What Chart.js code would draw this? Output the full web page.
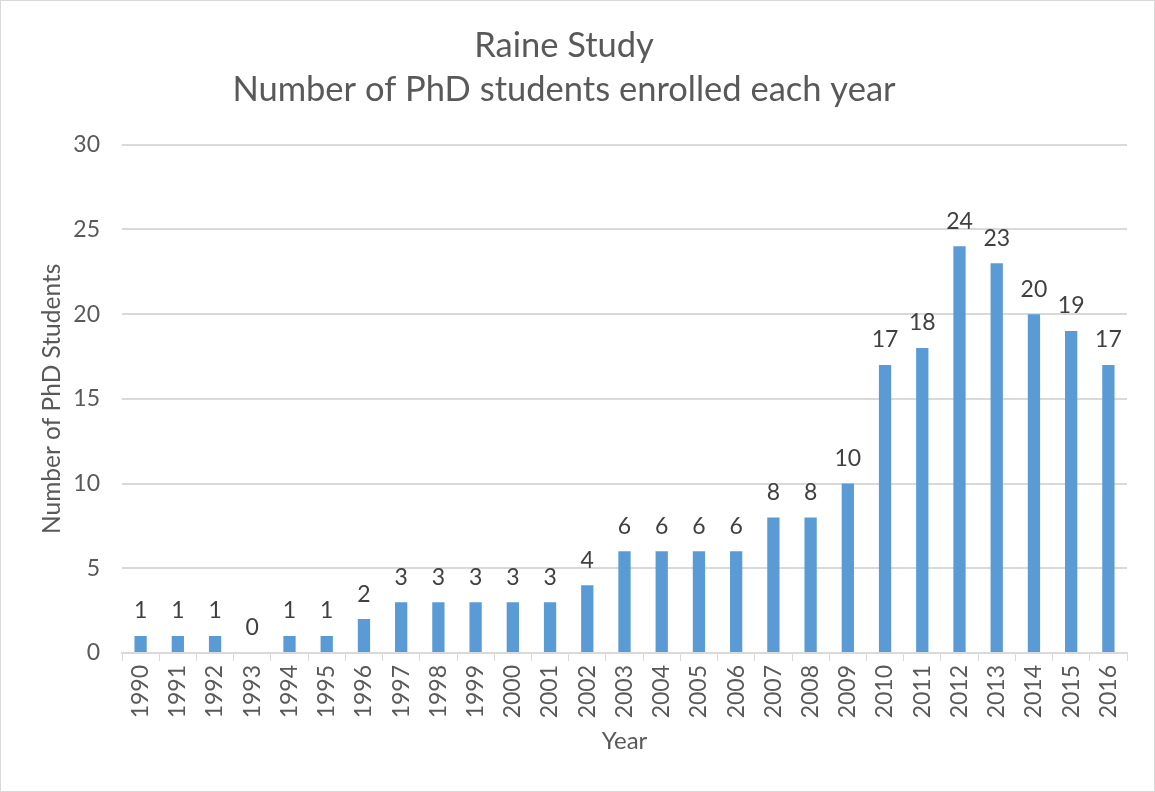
<!DOCTYPE html>
<html lang="en">
<head>
  <meta charset="UTF-8" />
  <title>Raine Study - PhD students</title>
  <script src="https://cdn.jsdelivr.net/npm/chart.js"></script>
  <style>
    body {
      margin: 0;
      background: #fff;
    }
    .frame {
      width: 1153px;
      height: 790px;
      border: 1px solid #d9d9d9;
    }
  </style>
</head>
<body>
  <div class="frame">
    <canvas id="phdChart" width="1153" height="790"></canvas>
  </div>

  <script>
    const years = ['1990','1991','1992','1993','1994','1995','1996','1997','1998','1999',
      '2000','2001','2002','2003','2004','2005','2006','2007','2008','2009',
      '2010','2011','2012','2013','2014','2015','2016'];
    const students = [1, 1, 1, 0, 1, 1, 2, 3, 3, 3, 3, 3, 4, 6, 6, 6, 6, 8, 8, 10,
      17, 18, 24, 23, 20, 19, 17];
    const titleLines = ['Raine Study', 'Number of PhD students enrolled each year'];

    const fontFamily = 'Lato, "Open Sans", sans-serif';

    // values drawn above each bar, like Excel data labels
    const barLabels = {
      id: 'barLabels',
      afterDatasetsDraw(chart) {
        const ctx = chart.ctx;
        const meta = chart.getDatasetMeta(0);
        ctx.save();
        ctx.font = '23px ' + fontFamily;
        ctx.fillStyle = '#404040';
        ctx.textAlign = 'center';
        ctx.textBaseline = 'middle';
        meta.data.forEach((bar, i) => {
          ctx.fillText(String(students[i]), bar.x, bar.y - 25);
        });
        ctx.restore();
      }
    };

    new Chart(document.getElementById('phdChart'), {
      type: 'bar',
      data: {
        labels: years,
        datasets: [{
          data: students,
          backgroundColor: '#5b9bd5',
          categoryPercentage: 1,
          barPercentage: 0.33
        }]
      },
      options: {
        responsive: false,
        animation: false,
        layout: { padding: { left: 0, right: 27, top: 0, bottom: 0 } },
        plugins: {
          legend: { display: false },
          tooltip: { enabled: false },
          title: {
            display: true,
            text: titleLines,
            color: '#595959',
            font: { family: fontFamily, size: 34.5, weight: 'normal', lineHeight: 1.3 },
            padding: { top: 22, bottom: 32 }
          }
        },
        scales: {
          x: {
            grid: {
              offset: true,
              drawOnChartArea: false,
              drawTicks: true,
              tickLength: 8,
              color: '#d9d9d9'
            },
            border: { display: true, color: '#d9d9d9', width: 2 },
            ticks: {
              color: '#595959',
              font: { family: fontFamily, size: 23 },
              minRotation: 90,
              maxRotation: 90,
              padding: 4
            },
            title: {
              display: true,
              text: 'Year',
              color: '#595959',
              font: { family: fontFamily, size: 24 },
              padding: { top: 0, bottom: 35 }
            },
            afterFit(scale) { scale.height = 138; }
          },
          y: {
            min: 0,
            max: 30,
            ticks: {
              stepSize: 5,
              color: '#595959',
              font: { family: fontFamily, size: 23 },
              padding: 22
            },
            grid: { color: '#d9d9d9', lineWidth: 2, drawTicks: false },
            border: { display: false },
            title: {
              display: true,
              text: 'Number of PhD Students',
              color: '#595959',
              font: { family: fontFamily, size: 24.5 },
              padding: { top: 36, bottom: 4 }
            },
            afterFit(scale) { scale.width = 121; }
          }
        }
      },
      plugins: [barLabels]
    });
  </script>
</body>
</html>
